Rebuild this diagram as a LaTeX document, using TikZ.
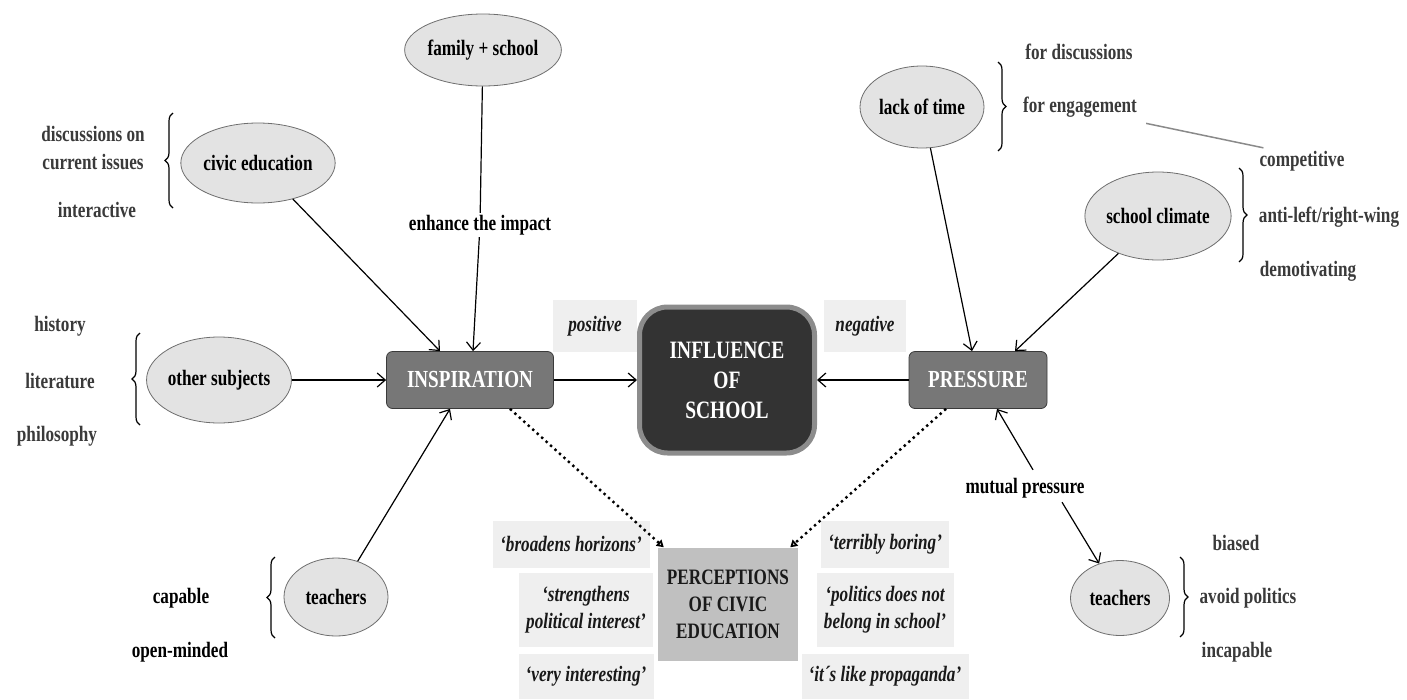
\documentclass[tikz,border=0pt]{standalone}
\usepackage{fontspec}
\setmainfont{Liberation Serif}[FakeStretch=0.78]
\usetikzlibrary{arrows.meta,decorations.pathreplacing,shapes.geometric,calc}
\definecolor{ellfill}{HTML}{E3E3E3}
\definecolor{ellline}{HTML}{6E6E6E}
\definecolor{boxfill}{HTML}{777777}
\definecolor{boxline}{HTML}{3A3A3A}
\definecolor{inffill}{HTML}{333333}
\definecolor{infline}{HTML}{8C8C8C}
\definecolor{percfill}{HTML}{C0C0C0}
\definecolor{quotefill}{HTML}{EFEFEF}
\definecolor{txtgray}{HTML}{3A3A3A}
\definecolor{linegray}{HTML}{8A8A8A}
\begin{document}
\begin{tikzpicture}[x=1pt,y=-1pt,
  base/.style={font=\fontsize{22}{28}\selectfont\bfseries},
  lbl/.style={base, text=txtgray, align=center, inner sep=2},
  ell/.style={ellipse, draw=ellline, fill=ellfill, line width=0.8, inner sep=0, base, text=black},
  mainbox/.style={rectangle, rounded corners=6, draw=boxline, fill=boxfill, line width=0.8, inner sep=0,
    font=\fontsize{24.5}{28}\selectfont\bfseries, text=white},
  quote/.style={rectangle, fill=quotefill, inner sep=0, align=center,
    font=\fontsize{22}{27}\selectfont\bfseries\itshape, text=black!90},
  arr/.style={-{Straight Barb[length=8,width=14]}, line width=1.2, black},
  dotarr/.style={-{Triangle[open,length=7,width=8]}, line width=2.4, dash pattern=on 2.4 off 3.6, black},
  brc/.style={decorate, decoration={brace, amplitude=8}, line width=1.2, black}
]
\useasboundingbox (0,0) rectangle (1407,699);

% central nodes
\node[rectangle, rounded corners=28, draw=infline, line width=5, fill=inffill, minimum width=175, minimum height=146,
  inner sep=0, align=center, font=\fontsize{25}{30}\selectfont\bfseries, text=white] (infl) at (727,380) {INFLUENCE\\OF\\SCHOOL};
\node[mainbox, minimum width=167, minimum height=57] (insp) at (470,380) {INSPIRATION};
\node[mainbox, minimum width=138, minimum height=57] (press) at (978,380) {PRESSURE};
\node[rectangle, fill=percfill, minimum width=140, minimum height=113, inner sep=0, align=center,
  font=\fontsize{22}{27}\selectfont\bfseries, text=black!90] (perc) at (728,604) {PERCEPTIONS\\OF CIVIC\\EDUCATION};

% positive / negative
\node[quote, minimum width=84, minimum height=52] (pos) at (595,326) {positive};
\node[quote, minimum width=82, minimum height=52] (neg) at (865,326) {negative};

% quotes
\node[quote, minimum width=157, minimum height=47] (q1) at (571,544) {‘broadens horizons’};
\node[quote, minimum width=134, minimum height=74] (q2) at (586,610) {‘strengthens\\political interest’};
\node[quote, minimum width=135, minimum height=45] (q3) at (586,676) {‘very interesting’};
\node[quote, minimum width=128, minimum height=47] (q4) at (885,544) {‘terribly boring’};
\node[quote, minimum width=137, minimum height=74] (q5) at (885,610) {‘politics does not\\belong in school’};
\node[quote, minimum width=167, minimum height=45] (q6) at (885,676) {‘it´s like propaganda’};

% ellipses
\node[ell, minimum width=130, minimum height=72] (fam) at (483,50) {family + school};
\node[ell, minimum width=147, minimum height=80] (civic) at (258,163) {civic education};
\node[ell, minimum width=142, minimum height=86] (other) at (219,380) {other subjects};
\node[ell, minimum width=104, minimum height=78] (tchL) at (336,597) {teachers};
\node[ell, minimum width=124, minimum height=82] (lack) at (922,107) {lack of time};
\node[ell, minimum width=143, minimum height=88] (clim) at (1158,216) {school climate};
\node[ell, minimum width=99, minimum height=75] (tchR) at (1120,598) {teachers};

% labels
\node[lbl, text=black] (enh) at (480,225) {enhance the impact};
\node[lbl, text=black] (mut) at (1025,488) {mutual pressure};
\node[lbl] (disc) at (93,148) {discussions on\\current issues};
\node[lbl] (inter) at (97,210) {interactive};
\node[lbl] (hist) at (60,326) {history};
\node[lbl] (lit) at (60,381) {literature};
\node[lbl] (phil) at (57,436) {philosophy};
\node[lbl, text=black] (capa) at (181,598) {capable};
\node[lbl, text=black] (open) at (180,652) {open-minded};
\node[lbl] (fdisc) at (1079,52) {for discussions};
\node[lbl] (feng) at (1080,107) {for engagement};
\node[lbl] (comp) at (1302,161) {competitive};
\node[lbl] (anti) at (1329,217) {anti-left/right-wing};
\node[lbl] (demo) at (1308,271) {demotivating};
\node[lbl] (bias) at (1236,543) {biased};
\node[lbl] (avoid) at (1248,598) {avoid politics};
\node[lbl] (incap) at (1237,652) {incapable};

% braces
\draw[brc] (173,208) -- (173,113);
\draw[brc] (140,425) -- (140,333);
\draw[brc] (275,638) -- (275,557);
\draw[brc] (998,62) -- (998,151);
\draw[brc] (1239,168) -- (1239,262);
\draw[brc] (1180,557) -- (1180,637);

% connectors
\draw[line width=1.2] (fam) -- (enh);
\draw[arr] (enh) -- ($(insp.north)+(3,0)$);
\draw[arr] (civic) -- ($(insp.north)+(-30,0)$);
\draw[arr] (other) -- (insp);
\draw[arr] (tchL) -- ($(insp.south)+(-20,0)$);
\draw[arr] (insp) -- (infl);
\draw[arr] (press) -- (infl);
\draw[arr] (lack) -- ($(press.north)+(-6,0)$);
\draw[arr] (clim) -- ($(press.north)+(37,0)$);
\draw[arr] ($(mut.north)+(8,-6)$) -- ($(press.south)+(19,0)$);
\draw[arr] ($(mut.south)+(37,2)$) -- (tchR);
\draw[line width=1.5, linegray] ($(feng.south east)+(7,4)$) -- ($(comp.north west)+(6,-1)$);
\draw[dotarr] ($(insp.south)+(40,0)$) -- ($(perc.north west)+(6,0)$);
\draw[dotarr] ($(press.south)+(-32,0)$) -- ($(perc.north east)+(-8,0)$);
\end{tikzpicture}
\end{document}
